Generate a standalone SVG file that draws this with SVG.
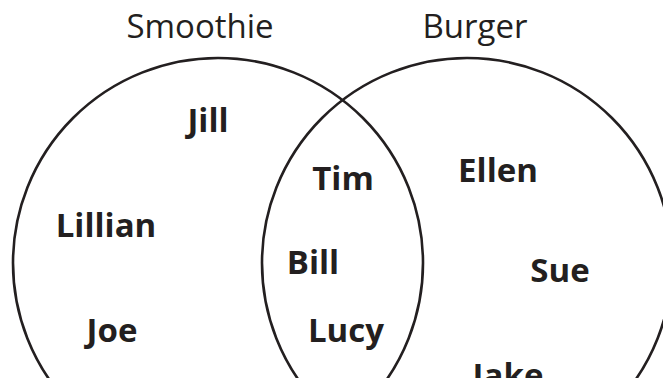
<svg xmlns="http://www.w3.org/2000/svg" width="663" height="378" viewBox="0 0 663 378">
<style>
.set{fill:none;stroke:#231f20;stroke-width:2.6}
.title{font-family:"Open Sans","Noto Sans","Liberation Sans",sans-serif;font-size:33px;fill:#231f20;text-anchor:middle}
.name{font-family:"Open Sans","Noto Sans","Liberation Sans",sans-serif;font-weight:bold;font-size:33px;fill:#231f20;text-anchor:middle}
</style>
<rect width="663" height="378" fill="#ffffff"/>
<g id="smoothie">
<circle class="set" cx="218" cy="263" r="205"/>
<text class="title" x="200" y="38">Smoothie</text>
</g>
<g id="burger">
<circle class="set" cx="467" cy="263" r="205"/>
<text class="title" x="475" y="38">Burger</text>
</g>
<g id="names">
<text class="name" x="208" y="132">Jill</text>
<text class="name" x="106" y="237">Lillian</text>
<text class="name" x="112" y="342">Joe</text>
<text class="name" x="343" y="190">Tim</text>
<text class="name" x="313" y="274">Bill</text>
<text class="name" x="346" y="342">Lucy</text>
<text class="name" x="498" y="182">Ellen</text>
<text class="name" x="560" y="282">Sue</text>
<text class="name" x="508" y="387">Jake</text>
</g>
</svg>
